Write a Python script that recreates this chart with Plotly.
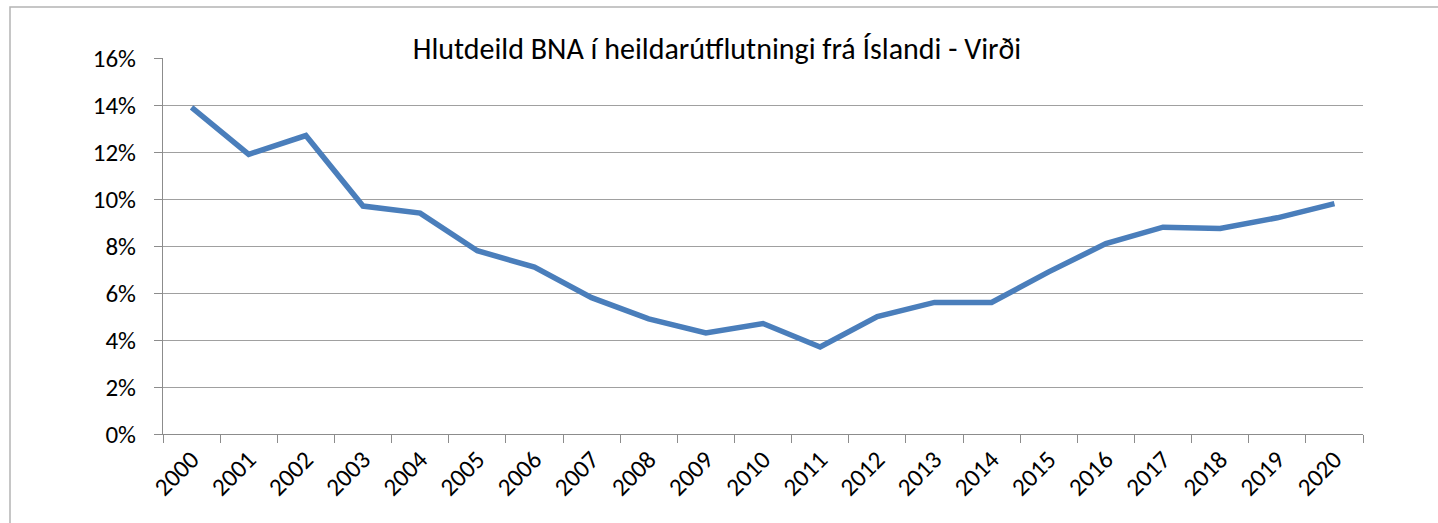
import plotly.graph_objects as go

YEARS = [str(y) for y in range(2000, 2021)]
SHARE = [0.139, 0.119, 0.127, 0.097, 0.094, 0.078, 0.071, 0.058, 0.049, 0.043,
         0.047, 0.037, 0.050, 0.056, 0.056, 0.069, 0.081, 0.088, 0.0875, 0.092, 0.098]
Y_TICKS = [0, 0.02, 0.04, 0.06, 0.08, 0.10, 0.12, 0.14, 0.16]
TITLE = "Hlutdeild BNA í heildarútflutningi frá Íslandi - Virði"

FONT = "Carlito, Calibri, Lato, sans-serif"
GRID = "#a0a0a0"
AXIS = "#8c8c8c"

fig = go.Figure()
fig.add_trace(
    go.Scatter(
        x=YEARS,
        y=SHARE,
        mode="lines",
        line=dict(color="#4a7ebb", width=5.5),
        showlegend=False,
    )
)

# outer chart frame (runs off the bottom/right of the window)
fig.add_shape(
    type="rect", xref="paper", yref="paper",
    x0=-0.1275, x1=1.2, y0=-0.5, y1=1.1356,
    line=dict(color="#b4b4b4", width=1.5), layer="below",
)

fig.update_layout(
    width=1438,
    height=523,
    paper_bgcolor="white",
    plot_bgcolor="white",
    font=dict(family=FONT, size=25, color="black"),
    title=dict(text=TITLE, x=0.4986, xanchor="center", y=0.908, yanchor="middle",
               font=dict(family=FONT, size=30, color="black")),
    margin=dict(l=163, r=75, t=58, b=89),
    xaxis=dict(
        type="category",
        range=[-0.5, 20.5],
        tickson="boundaries",
        ticks="outside",
        ticklen=8,
        tickcolor=AXIS,
        tickangle=-45,
        showline=True,
        linecolor=AXIS,
        linewidth=1,
        showgrid=False,
        tickfont=dict(family=FONT, size=25),
    ),
    yaxis=dict(
        range=[0, 0.16],
        tickvals=Y_TICKS,
        tickformat=".0%",
        ticks="outside",
        ticklen=8,
        tickcolor=AXIS,
        ticklabelstandoff=13,
        showline=True,
        linecolor=AXIS,
        linewidth=1,
        showgrid=True,
        gridcolor=GRID,
        gridwidth=1,
        zeroline=False,
        tickfont=dict(family=FONT, size=25),
    ),
)

# drop the default 8px body margin so the figure sits at the window corner
fig.write_html(
    "out.html",
    config={"displayModeBar": False},
    post_script="document.body.style.margin='0';document.body.style.overflow='hidden';",
)
